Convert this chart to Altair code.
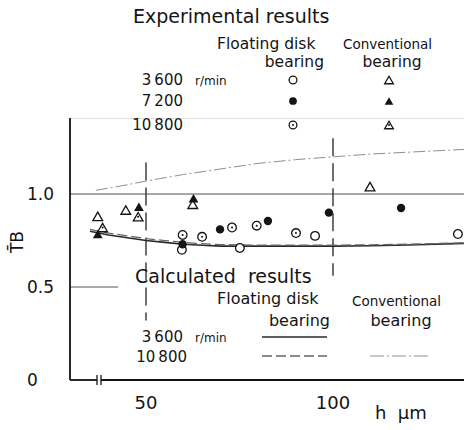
import altair as alt
import pandas as pd

# ---------------- data ----------------
# Experimental results: floating disk bearing (circles)
float_3600_h = [59.6, 75.1, 95.2, 133.4]
float_3600_v = [0.70, 0.71, 0.775, 0.785]
float_7200_h = [59.8, 69.8, 82.6, 98.9, 118.2]
float_7200_v = [0.73, 0.81, 0.855, 0.90, 0.925]
float_10800_h = [59.8, 65.0, 73.0, 79.6, 90.1]
float_10800_v = [0.78, 0.77, 0.82, 0.83, 0.79]
# Experimental results: conventional bearing (triangles)
conv_3600_h = [37.1, 44.6, 62.5, 109.9]
conv_3600_v = [0.88, 0.914, 0.945, 1.04]
conv_7200_h = [37.1, 48.1, 62.7]
conv_7200_v = [0.785, 0.932, 0.977]
conv_10800_h = [38.4, 47.9]
conv_10800_v = [0.82, 0.878]

# Calculated results
calc_float_h = [35, 40, 45, 50, 55, 60, 65, 70, 80, 90, 100, 110, 120, 135]
calc_float_3600 = [0.80, 0.78, 0.765, 0.75, 0.74, 0.73, 0.725, 0.72, 0.72, 0.72, 0.72, 0.722, 0.726, 0.735]
calc_float_10800 = [0.81, 0.79, 0.775, 0.76, 0.75, 0.74, 0.733, 0.728, 0.725, 0.725, 0.725, 0.727, 0.73, 0.738]
calc_conv_h = [36.6, 45, 50, 60, 70, 80, 90, 100, 110, 120, 135]
calc_conv_10800 = [1.02, 1.05, 1.07, 1.105, 1.135, 1.165, 1.185, 1.20, 1.215, 1.225, 1.24]

# reference lines
ref_v = [1.0]
vline_h = [50, 100]
vline_top = [1.17, 1.30]
vline_bot = [0.32, 0.56]

# tick labels
y_ticks = [0, 0.5, 1.0]
y_tick_labels = ["0", "0.5", "1.0"]
x_ticks = [50, 100]
x_tick_labels = ["50", "100"]

# ---------------- layout ----------------
LEFT, TOP, W, H = 70, 118, 394, 262
X_DOMAIN = [29.68, 135.03]
Y_DOMAIN = [0, 1.409]
FONT = "DejaVu Sans"
INK = "#141414"
NB = "\u00a0"

xs = alt.Scale(domain=X_DOMAIN, nice=False, zero=False)
ys = alt.Scale(domain=Y_DOMAIN, nice=False, zero=False)


def X(field="h"):
    return alt.X(field, type="quantitative", scale=xs, axis=None)


def Y(field="v"):
    return alt.Y(field, type="quantitative", scale=ys, axis=None)


def px(x):
    return x - LEFT


def py(y):
    return y - TOP


layers = []

# horizontal reference line at 1.0
layers.append(
    alt.Chart(pd.DataFrame({"v": ref_v})).mark_rule(color="#8a8a8a", strokeWidth=1.6)
    .encode(y=Y(), x=alt.value(0), x2=alt.value(W))
)
# short segment at 0.5
layers.append(
    alt.Chart(pd.DataFrame({"v": [0.5]})).mark_rule(color="#555", strokeWidth=1)
    .encode(y=Y(), x=alt.value(0), x2=alt.value(48))
)
# vertical dashed lines at 50 and 100
layers.append(
    alt.Chart(pd.DataFrame({"h": vline_h, "v": vline_top, "v2": vline_bot}))
    .mark_rule(color="#333", strokeWidth=1.4, strokeDash=[18, 7])
    .encode(x=X(), y=Y(), y2="v2:Q")
)

# calculated curves
layers.append(
    alt.Chart(pd.DataFrame({"h": calc_conv_h, "v": calc_conv_10800}))
    .mark_line(color="#8f8f8f", strokeWidth=1, strokeDash=[12, 3, 2, 3])
    .encode(x=X(), y=Y())
)
layers.append(
    alt.Chart(pd.DataFrame({"h": calc_float_h, "v": calc_float_3600}))
    .mark_line(color="#2a2a2a", strokeWidth=1.6)
    .encode(x=X(), y=Y())
)
layers.append(
    alt.Chart(pd.DataFrame({"h": calc_float_h, "v": calc_float_10800}))
    .mark_line(color="#666", strokeWidth=1.3, strokeDash=[10, 4])
    .encode(x=X(), y=Y())
)


def pts(hs, vs, shape, filled, size, dot=False):
    df = pd.DataFrame({"h": hs, "v": vs})
    out = []
    if filled:
        out.append(alt.Chart(df).mark_point(shape=shape, filled=True, color=INK, size=size, opacity=1)
                   .encode(x=X(), y=Y()))
    else:
        out.append(alt.Chart(df).mark_point(shape=shape, filled=True, fill="white", stroke=INK,
                                            strokeWidth=1.3, size=size, opacity=1)
                   .encode(x=X(), y=Y()))
    if dot:
        out.append(alt.Chart(df).mark_point(shape="circle", filled=True, color=INK, size=4, opacity=1)
                   .encode(x=X(), y=Y()))
    return out


layers += pts(conv_3600_h, conv_3600_v, "triangle-up", False, 95)
layers += pts(conv_7200_h, conv_7200_v, "triangle-up", True, 95)
layers += pts(conv_10800_h, conv_10800_v, "triangle-up", False, 95, dot=True)
layers += pts(float_3600_h, float_3600_v, "circle", False, 75)
layers += pts(float_7200_h, float_7200_v, "circle", True, 70)
layers += pts(float_10800_h, float_10800_v, "circle", False, 75, dot=True)

# axes lines
layers.append(alt.Chart(pd.DataFrame({"a": [0]})).mark_rule(color=INK, strokeWidth=1.8)
              .encode(x=alt.value(0), y=alt.value(0), y2=alt.value(H)))
layers.append(alt.Chart(pd.DataFrame({"a": [0]})).mark_rule(color=INK, strokeWidth=1.8)
              .encode(x=alt.value(0), x2=alt.value(px(97)), y=alt.value(H)))
layers.append(alt.Chart(pd.DataFrame({"a": [0]})).mark_rule(color=INK, strokeWidth=1.8)
              .encode(x=alt.value(px(101)), x2=alt.value(W), y=alt.value(H)))
# axis break marks
layers.append(alt.Chart(pd.DataFrame({"a": [0]})).mark_rule(color=INK, strokeWidth=1.3)
              .encode(x=alt.value(px(97)), y=alt.value(H - 5), y2=alt.value(H + 5)))
layers.append(alt.Chart(pd.DataFrame({"a": [0]})).mark_rule(color=INK, strokeWidth=1.3)
              .encode(x=alt.value(px(101)), y=alt.value(H - 5), y2=alt.value(H + 5)))

# tick labels
layers.append(
    alt.Chart(pd.DataFrame({"v": y_ticks, "t": y_tick_labels}))
    .mark_text(font=FONT, fontSize=17, align="left", baseline="middle", color=INK, dy=1)
    .encode(y=Y(), x=alt.value(px(27)), text="t:N")
)
layers.append(
    alt.Chart(pd.DataFrame({"h": x_ticks, "t": x_tick_labels}))
    .mark_text(font=FONT, fontSize=18, align="center", baseline="middle", color=INK)
    .encode(x=X(), y=alt.value(py(404)), text="t:N")
)

# free text annotations (text, x, y, size, align)
texts = [
    ("Experimental results", 133, 17, 19, "left"),
    ("Floating disk", 217, 44, 15.5, "left"),
    ("bearing", 324, 62, 15.5, "right"),
    ("Conventional", 343, 45, 13.5, "left"),
    ("bearing", 392, 62, 15.5, "center"),
    ("3\u2009600", 183, 80, 15, "right"),
    ("r/min", 195, 81, 12, "left"),
    ("7\u2009200", 183, 101, 15, "right"),
    ("10\u2009800", 183, 125, 15, "right"),
    ("Calculated" + NB + NB + "results", 135, 277, 19, "left"),
    ("Floating disk", 217, 299, 16, "left"),
    ("bearing", 330, 321, 16, "right"),
    ("Conventional", 352, 302, 13.5, "left"),
    ("bearing", 401, 321, 16, "center"),
    ("3\u2009600", 183, 337, 15, "right"),
    ("r/min", 195, 338, 12, "left"),
    ("10\u2009800", 187, 357, 15, "right"),
    ("h" + NB + NB + "\u03bcm", 375, 414, 18, "left"),
]
for t, x, y, s, a in texts:
    layers.append(
        alt.Chart(pd.DataFrame({"t": [t]}))
        .mark_text(font=FONT, fontSize=s, align=a, baseline="middle", color=INK)
        .encode(x=alt.value(px(x)), y=alt.value(py(y)), text="t:N")
    )

# y-axis title
layers.append(
    alt.Chart(pd.DataFrame({"t": ["T\u0304B"]}))
    .mark_text(font=FONT, fontSize=17, angle=270, align="center", baseline="middle", color=INK)
    .encode(x=alt.value(px(18)), y=alt.value(py(242)), text="t:N")
)

# legend symbols (experimental)
leg_rows = [80, 101, 125]
for (shape, cx) in [("circle", 293), ("triangle-up", 389)]:
    for i, ry in enumerate(leg_rows):
        d = pd.DataFrame({"a": [0]})
        size = 60 if shape == "circle" else 75
        if i == 1:
            layers.append(alt.Chart(d).mark_point(shape=shape, filled=True, color=INK, size=size, opacity=1)
                          .encode(x=alt.value(px(cx)), y=alt.value(py(ry))))
        else:
            layers.append(alt.Chart(d).mark_point(shape=shape, filled=True, fill="white", stroke=INK,
                                                  strokeWidth=1.3, size=size, opacity=1)
                          .encode(x=alt.value(px(cx)), y=alt.value(py(ry))))
        if i == 2:
            layers.append(alt.Chart(d).mark_point(shape="circle", filled=True, color=INK, size=4, opacity=1)
                          .encode(x=alt.value(px(cx)), y=alt.value(py(ry))))

# legend line samples (calculated)
layers.append(alt.Chart(pd.DataFrame({"a": [0]})).mark_rule(color="#2a2a2a", strokeWidth=1.6)
              .encode(x=alt.value(px(262)), x2=alt.value(px(327)), y=alt.value(py(337))))
layers.append(alt.Chart(pd.DataFrame({"a": [0]})).mark_rule(color="#666", strokeWidth=1.3, strokeDash=[10, 4])
              .encode(x=alt.value(px(262)), x2=alt.value(px(327)), y=alt.value(py(356))))
layers.append(alt.Chart(pd.DataFrame({"a": [0]})).mark_rule(color="#8f8f8f", strokeWidth=1, strokeDash=[14, 3, 2, 3])
              .encode(x=alt.value(px(370)), x2=alt.value(px(430)), y=alt.value(py(356))))

chart = (
    alt.layer(*layers)
    .properties(width=W, height=H, autosize="none",
                padding={"left": LEFT, "top": TOP, "right": 0, "bottom": 430 - TOP - H})
    .configure_view(stroke=None)
    .configure(background="white")
)

chart.save("out.html", embed_options={"renderer": "svg", "actions": False})
